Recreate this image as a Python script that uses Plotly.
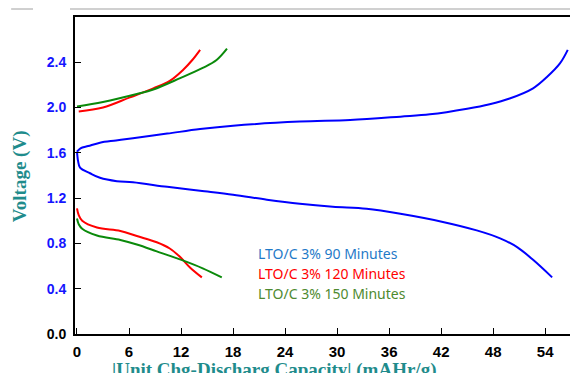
import plotly.graph_objects as go

# ---- data (capacity mAHr/g, voltage V) ----
blue_chg_x = [0, 0.4, 1.3, 2.65, 4.5, 6.45, 10.4, 14.2, 18.0, 25.7, 31.5, 37.3, 40.7, 45.0, 47.6, 49.9, 52.6, 54.2, 55.7, 56.6]
blue_chg_v = [1.61, 1.64, 1.66, 1.69, 1.71, 1.73, 1.77, 1.81, 1.84, 1.876, 1.89, 1.92, 1.94, 1.99, 2.03, 2.08, 2.17, 2.27, 2.39, 2.51]
blue_dis_x = [0, 0.05, 0.12, 0.35, 1.5, 2.65, 4.6, 6.45, 10.4, 14.2, 18.0, 21.9, 25.7, 29.5, 33.4, 37.3, 42.2, 46.1, 48.8, 50.8, 52.6, 54.8]
blue_dis_v = [1.61, 1.57, 1.53, 1.47, 1.42, 1.38, 1.35, 1.34, 1.30, 1.265, 1.23, 1.186, 1.15, 1.124, 1.106, 1.062, 0.99, 0.915, 0.845, 0.765, 0.655, 0.50]

red_chg_x = [0.2, 3.0, 6.1, 8.8, 10.7, 12.2, 13.3, 14.2]
red_chg_v = [1.965, 2.0, 2.09, 2.17, 2.235, 2.33, 2.42, 2.51]
red_dis_x = [0, 0.2, 0.6, 2.3, 5.0, 6.9, 9.2, 10.7, 11.9, 13.0, 14.4]
red_dis_v = [1.11, 1.05, 1.0, 0.94, 0.91, 0.865, 0.81, 0.755, 0.68, 0.59, 0.50]

green_chg_x = [0, 3.0, 6.9, 8.8, 11.9, 14.5, 16.1, 17.3]
green_chg_v = [2.01, 2.05, 2.12, 2.16, 2.26, 2.35, 2.42, 2.52]
green_dis_x = [0, 0.2, 0.6, 2.3, 5.0, 6.9, 9.2, 12.2, 14.5, 16.7]
green_dis_v = [1.02, 0.97, 0.93, 0.87, 0.83, 0.79, 0.73, 0.65, 0.58, 0.50]

x_ticks = [0, 6, 12, 18, 24, 30, 36, 42, 48, 54]
y_ticks = [0.0, 0.4, 0.8, 1.2, 1.6, 2.0, 2.4]
legend_labels = ["LTO/C 3% 90 Minutes", "LTO/C 3% 120 Minutes", "LTO/C 3% 150 Minutes"]
x_title = "|Unit Chg-Discharg Capacity| (mAHr/g)"
y_title = "Voltage (V)"

fig = go.Figure()
series = [
    (blue_chg_x, blue_chg_v, "#0000FF"), (blue_dis_x, blue_dis_v, "#0000FF"),
    (red_chg_x, red_chg_v, "#FF0000"), (red_dis_x, red_dis_v, "#FF0000"),
    (green_chg_x, green_chg_v, "#0A8A0A"), (green_dis_x, green_dis_v, "#0A8A0A"),
]
for xs, vs, c in series:
    fig.add_trace(go.Scatter(x=xs, y=vs, mode="lines",
                             line=dict(color=c, width=2, shape="spline", smoothing=1.0),
                             showlegend=False, hoverinfo="skip"))

y_ticktext = [f"<span style='color:black'>{v:.1f}</span>" if v == 0 else f"{v:.1f}" for v in y_ticks]

fig.update_layout(
    width=570, height=373,
    margin=dict(l=75, r=0, t=17, b=39),
    paper_bgcolor="white", plot_bgcolor="white",
    xaxis=dict(range=[-0.23, 56.86], tickvals=x_ticks, ticktext=[str(t) for t in x_ticks],
               showgrid=False, zeroline=False, showline=True, linecolor="black", linewidth=2,
               mirror=True, ticks="inside", ticklen=6, tickcolor="black", tickwidth=1,
               tickfont=dict(family="Liberation Sans", size=15, color="black", weight="bold"),
               ticklabelstandoff=3),
    yaxis=dict(range=[0, 2.8], tickvals=y_ticks, ticktext=y_ticktext,
               showgrid=False, zeroline=False, showline=True, linecolor="black", linewidth=2,
               ticks="inside", ticklen=6, tickcolor="black", tickwidth=1,
               tickfont=dict(family="Liberation Sans", size=14, color="#1515FF", weight="bold"),
               ticklabelstandoff=4),
)

# titles
fig.add_annotation(text=f"<b>{y_title}</b>", xref="paper", yref="paper", x=-0.111, y=0.498,
                   xanchor="center", yanchor="middle", textangle=-90, showarrow=False,
                   font=dict(family="Liberation Serif", size=19, color="#1F8C8C"))
fig.add_annotation(text=f"<b>{x_title}</b>", xref="paper", yref="paper", x=0.402, y=-0.0726,
                   xanchor="center", yanchor="top", showarrow=False,
                   font=dict(family="Liberation Serif", size=19, color="#1F8C8C"))

# legend text
legend_colors = ["#1F7AC8", "#FF0000", "#4E8A30"]
legend_y = [0.2524, 0.1893, 0.1293]
for lab, col, yy in zip(legend_labels, legend_colors, legend_y):
    fig.add_annotation(text=lab, xref="paper", yref="paper", x=0.366, y=yy,
                       xanchor="left", yanchor="middle", showarrow=False,
                       font=dict(family="Noto Sans", size=14, color=col))

# decorative gray page lines at top
for x0, x1 in [(-0.129, -0.0848), (-0.0101, 1.0)]:
    fig.add_shape(type="line", xref="paper", yref="paper", x0=x0, x1=x1, y0=1.0252, y1=1.0252,
                  line=dict(color="#C0C0C0", width=1.5))

fig.write_html("out.html")
